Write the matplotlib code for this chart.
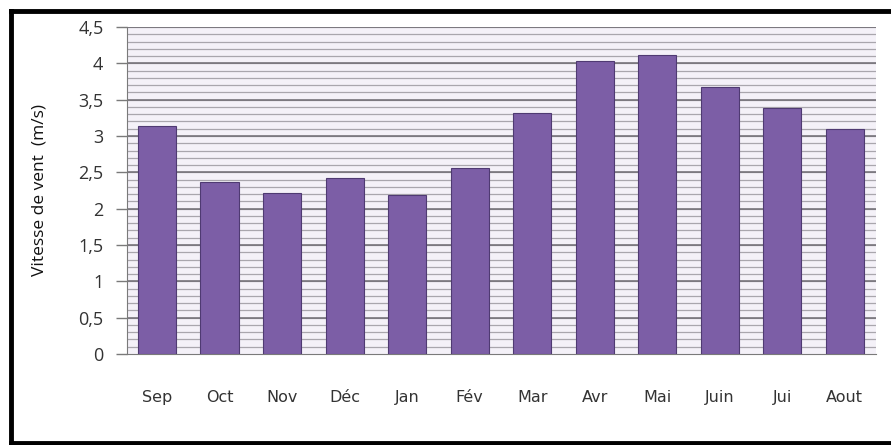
import numpy as np
import matplotlib.pyplot as plt
from matplotlib.lines import Line2D

months = ["Sep", "Oct", "Nov", "Déc", "Jan", "Fév", "Mar", "Avr", "Mai", "Juin", "Jui", "Aout"]
vitesse = [3.14, 2.37, 2.21, 2.42, 2.19, 2.56, 3.32, 4.03, 4.12, 3.67, 3.38, 3.09]
yticks = [0, 0.5, 1, 1.5, 2, 2.5, 3, 3.5, 4, 4.5]
ytick_labels = ["0", "0,5", "1", "1,5", "2", "2,5", "3", "3,5", "4", "4,5"]

fig = plt.figure(figsize=(8.91, 4.45), dpi=100)
ax = fig.add_axes([127/891, 1 - 354/445, (876-127)/891, (354-27)/445])
ax.set_facecolor("#f4f1f8")

x = np.arange(len(months))
ax.bar(x, vitesse, width=0.61, color="#7c5ea6", edgecolor="#4f3a72", linewidth=0.8, zorder=3)

ax.set_xlim(-0.48, 11.5)
ax.set_ylim(0, 4.5)

# minor grid every 0.1, major every 0.5
for v in np.arange(0.1, 4.51, 0.1):
    ax.axhline(v, color="#a9a6ad", linewidth=0.9, zorder=1)
for v in yticks[1:]:
    ax.axhline(v, color="#6f6c73", linewidth=1.1, zorder=2)

ax.set_yticks(yticks)
ax.set_yticklabels(ytick_labels, fontsize=13, color="#333333", family="Open Sans")
ax.tick_params(axis="y", length=8, width=1, color="#7a7a7a", pad=9)
ax.set_xticks(x)
ax.set_xticklabels(months, fontsize=11.5, color="#333333", family="DejaVu Sans")
ax.tick_params(axis="x", length=0, pad=26)

for s in ["top", "right"]:
    ax.spines[s].set_visible(False)
ax.spines["left"].set_color("#7a7a7a")
ax.spines["bottom"].set_color("#7a7a7a")

ax.set_ylabel("Vitesse de vent  (m/s)", fontsize=12.5, family="Open Sans", color="#111111", weight="medium")
ax.yaxis.set_label_coords(-0.106, 0.5)

# outer black frame (left, top, bottom)
fig.add_artist(Line2D([11/891, 11/891], [1 - 443/445, 1 - 11/445], color="black", linewidth=3.5))
fig.add_artist(Line2D([11/891, 1], [1 - 11/445, 1 - 11/445], color="black", linewidth=3.5))
fig.add_artist(Line2D([11/891, 1], [1 - 443/445, 1 - 443/445], color="black", linewidth=3.5))

fig.savefig("out.png", dpi=100)
